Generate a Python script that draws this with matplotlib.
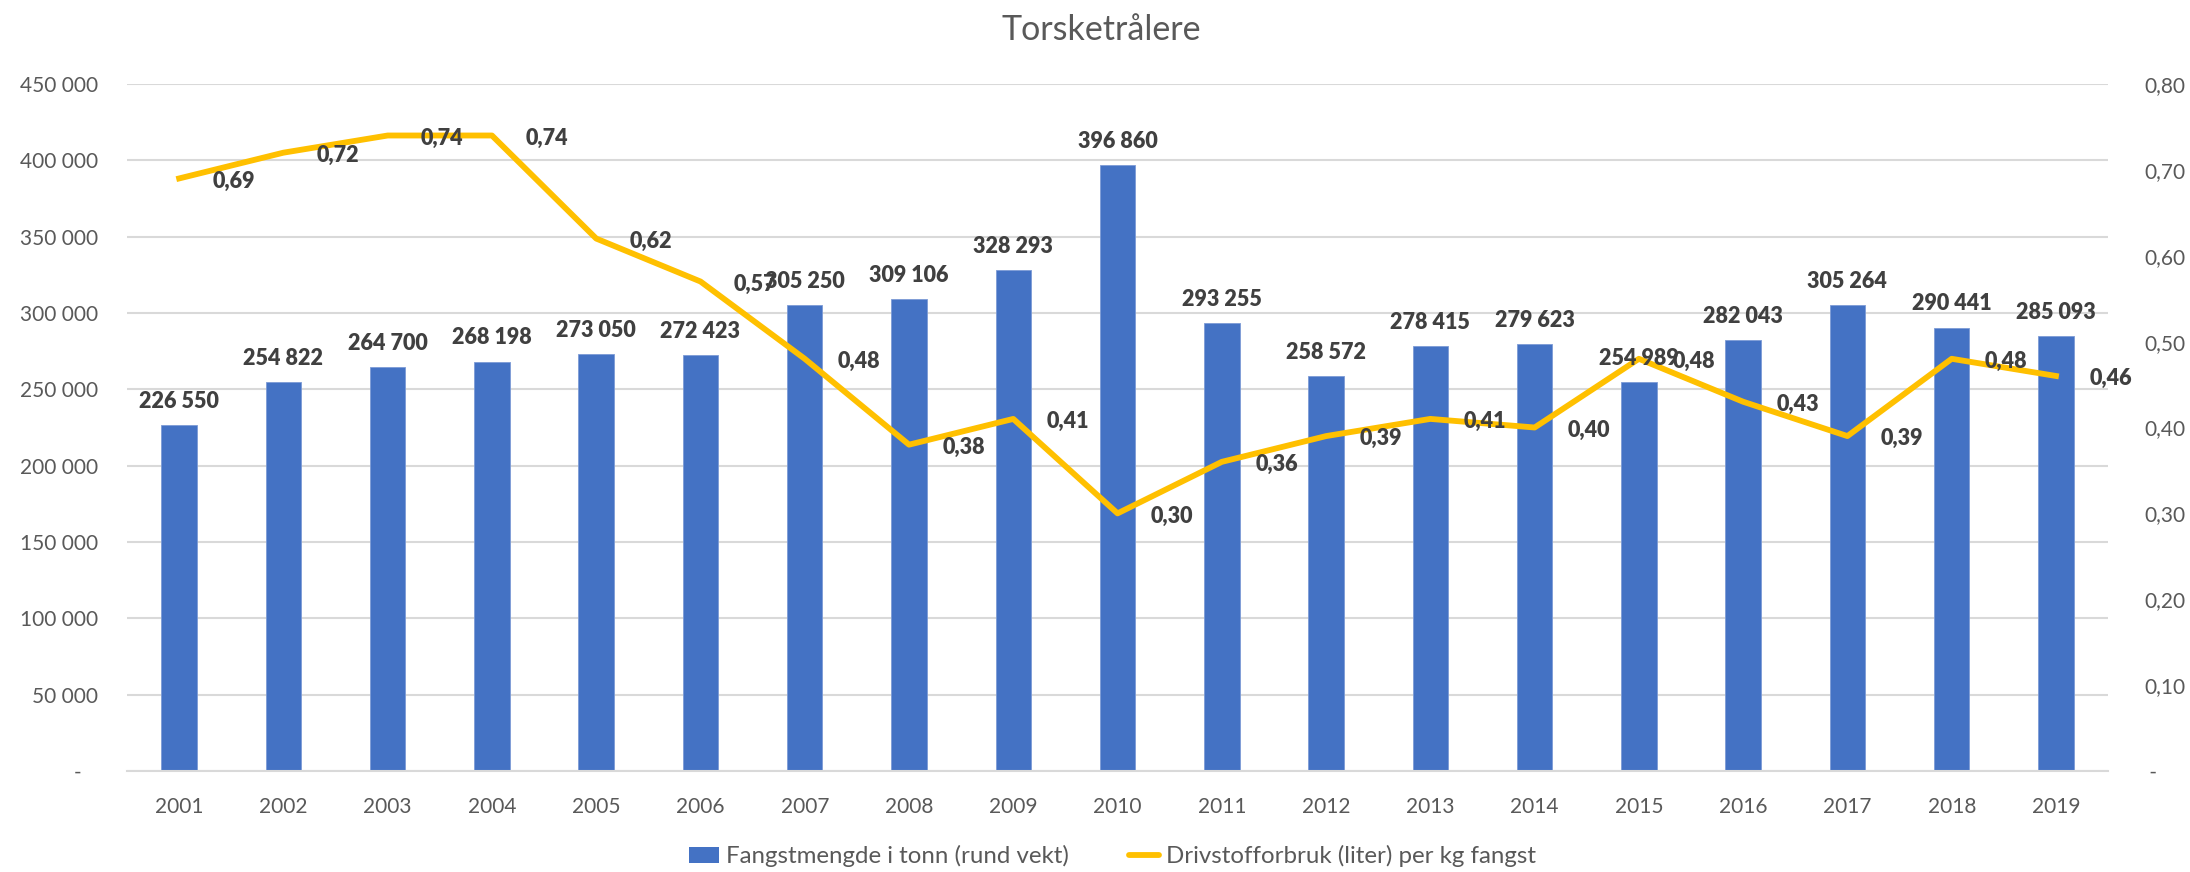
import matplotlib
matplotlib.use("Agg")
import matplotlib.pyplot as plt
from matplotlib.patches import Patch
from matplotlib.lines import Line2D
from matplotlib.ticker import FuncFormatter, MultipleLocator

plt.rcParams['font.family'] = ['Lato', 'DejaVu Sans']

years = ["2001", "2002", "2003", "2004", "2005", "2006", "2007", "2008", "2009", "2010",
         "2011", "2012", "2013", "2014", "2015", "2016", "2017", "2018", "2019"]
catch_tonnes = [226550, 254822, 264700, 268198, 273050, 272423, 305250, 309106, 328293, 396860,
                293255, 258572, 278415, 279623, 254989, 282043, 305264, 290441, 285093]
fuel_per_kg = [0.69, 0.72, 0.74, 0.74, 0.62, 0.57, 0.48, 0.38, 0.41, 0.30,
               0.36, 0.39, 0.41, 0.40, 0.48, 0.43, 0.39, 0.48, 0.46]

title = "Torsketrålere"
bar_label = "Fangstmengde i tonn (rund vekt)"
line_label = "Drivstofforbruk (liter) per kg fangst"

BLUE = "#4472C4"
GOLD = "#FFC000"
GRID = "#D9D9D9"
TICK = "#595959"
LAB = "#404040"

fig = plt.figure(figsize=(21.9, 8.72), dpi=100)
ax1 = fig.add_axes([0.058, 0.1158, 0.9046, 0.7879])
ax2 = ax1.twinx()

x = list(range(len(years)))
ax1.bar(x, catch_tonnes, width=0.34, color=BLUE, edgecolor="#7C9BD6", linewidth=0.6, zorder=2)
ax2.plot(x, fuel_per_kg, color=GOLD, linewidth=4.2, solid_joinstyle='round', zorder=3)

ax1.set_xlim(-0.5, len(years) - 0.5)
ax1.set_ylim(0, 450000)
ax2.set_ylim(0, 0.80)
ax1.yaxis.set_major_locator(MultipleLocator(50000))
ax2.yaxis.set_major_locator(MultipleLocator(0.10))

def left_fmt(v, pos):
    if abs(v) < 1e-9:
        return "-   "
    return f"{int(round(v)):,}".replace(",", " ")

def right_fmt(v, pos):
    if abs(v) < 1e-9:
        return " -"
    return f"{v:.2f}".replace(".", ",")

ax1.yaxis.set_major_formatter(FuncFormatter(left_fmt))
ax2.yaxis.set_major_formatter(FuncFormatter(right_fmt))
ax1.set_xticks(x)
ax1.set_xticklabels(years)

ax1.grid(axis='y', color=GRID, linewidth=1.5, zorder=0)
ax1.set_axisbelow(True)

for ax in (ax1, ax2):
    for s in ax.spines.values():
        s.set_visible(False)
ax1.spines['bottom'].set_visible(True)
ax1.spines['bottom'].set_color(GRID)
ax1.spines['bottom'].set_linewidth(1.5)

ax1.tick_params(axis='y', length=0, pad=21, labelsize=15, labelcolor=TICK)
ax1.tick_params(axis='x', length=0, pad=19, labelsize=15, labelcolor=TICK)
ax2.tick_params(axis='y', length=0, pad=26, labelsize=15, labelcolor=TICK)
for t in ax2.get_yticklabels():
    t.set_horizontalalignment('left')

# bar labels (drawn on top axes so they sit above the line)
for xi, v in zip(x, catch_tonnes):
    ax2.annotate(f"{v:,}".replace(",", " "), xy=(xi, v), xycoords=ax1.transData,
                 xytext=(0, 17), textcoords='offset points', ha='center', va='center',
                 fontsize=15.5, fontweight='heavy', color=LAB, zorder=5)

# line labels to the right
for xi, v in zip(x, fuel_per_kg):
    ax2.annotate(f"{v:.2f}".replace(".", ","), xy=(xi, v),
                 xytext=(24, -2), textcoords='offset points', ha='left', va='center',
                 fontsize=15.5, fontweight='heavy', color=LAB, zorder=5)

fig.text(0.503, 0.966, title, ha='center', va='center', fontsize=24.5, color=TICK)

handles = [Patch(facecolor=BLUE, edgecolor='none'),
           Line2D([0], [0], color=GOLD, linewidth=4.2, solid_capstyle='round')]
fig.legend(handles, [bar_label, line_label], loc='center', bbox_to_anchor=(0.508, 0.018),
           ncol=2, frameon=False, fontsize=17.3, labelcolor=TICK, handlelength=1.25,
           handletextpad=0.3, columnspacing=2.5)

fig.savefig("out.png", dpi=100)
